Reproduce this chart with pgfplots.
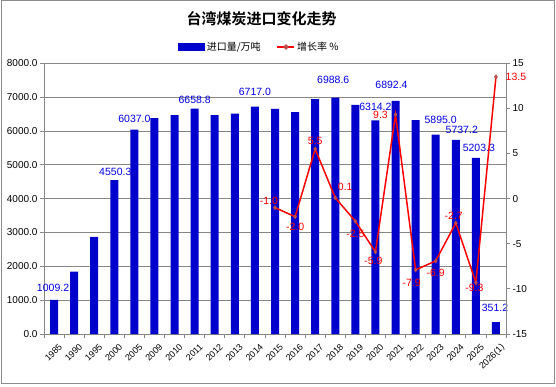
\documentclass[border=0pt]{standalone}
\usepackage{fontspec}
\setmainfont{Liberation Sans}
\newfontfamily\cjk{Noto Sans CJK SC}
\newfontfamily\cjkb{Noto Sans CJK SC Bold}
\usepackage{pgfplots}
\pgfplotsset{compat=1.18}
\usepackage{pgfplotstable}
\definecolor{barblue}{RGB}{0,0,204}
\definecolor{lblblue}{RGB}{0,0,230}
\definecolor{gridgray}{RGB}{134,134,134}
\definecolor{mkred}{RGB}{190,75,72}
\definecolor{framegray}{RGB}{140,140,140}

\pgfplotstableread{
x y
0 1009.2
1 1840
2 2870
3 4550.3
4 6037.0
5 6380
6 6470
7 6658.8
8 6470
9 6510
10 6717.0
11 6650
12 6560
13 6940
14 6988.6
15 6770
16 6314.2
17 6892.4
18 6320
19 5895.0
20 5737.2
21 5203.3
22 351.2
}\bars

\pgfplotstableread{
x y lbl dx dy
0 1009.2 1009.2 -1 12
3 4550.3 4550.3 1 8
4 6037.0 6037.0 0 11
7 6658.8 6658.8 0 8.7
10 6717.0 6717.0 0 15
14 6988.6 6988.6 -2 17.5
16 6314.2 6314.2 0 13
17 6892.4 6892.4 -4 16
19 5895.0 5895.0 5 14.5
20 5737.2 5737.2 6 10
21 5203.3 5203.3 3 10
22 351.2 351.2 -1 14
}\barlabels

\pgfplotstableread{
x g lbl dx dy
11 -1.0 -1.0 -6 7
12 -2.0 -2.0 0 -10
13 5.5 5.5 0 8
14 0.1 0.1 10 11
15 -2.5 -2.5 0 -13
16 -5.9 -5.9 -2 -9
17 9.3 9.3 -15 0
18 -7.9 -7.9 -4 -13
19 -6.9 -6.9 0 -12
20 -2.7 -2.7 -2 7
21 -9.3 -9.3 -1.5 -5
22 13.5 13.5 20 0
}\growth

\begin{document}
\begin{tikzpicture}
\useasboundingbox (0,0) rectangle (556pt,386pt);
\draw[framegray, line width=1pt] (1pt,3pt) rectangle (554pt,385.5pt);
\node[font=\cjkb\fontsize{15}{18}\selectfont] at (261.5pt,367.2pt) {台湾煤炭进口变化走势};

\begin{axis}[
  at={(44pt,52pt)}, anchor=south west,
  scale only axis, width=462pt, height=270.7pt,
  xmin=-0.5, xmax=22.5, ymin=0, ymax=8000,
  axis line style={gridgray, line width=0.8pt},
  tick align=outside,
  major tick length=0pt,
  minor tick length=4pt,
  tick pos=left,
  every tick/.style={gridgray, line width=0.8pt},
  xtick={0,...,22},
  minor xtick={-0.5,0.5,...,22.5},
  xticklabels={1985,1990,1995,2000,2005,2009,2010,2011,2012,2013,2014,2015,2016,2017,2018,2019,2020,2021,2022,2023,2024,2025,2026(1)},
  xticklabel style={rotate=45, anchor=north east, font=\fontsize{9}{10}\selectfont, yshift=-6pt, xshift=0pt},
  ytick={0,1000,...,8000},
  minor ytick={0,1000,...,8000},
  yticklabels={0.0,1000.0,2000.0,3000.0,4000.0,5000.0,6000.0,7000.0,8000.0},
  yticklabel style={font=\fontsize{10}{12}\selectfont, xshift=-3pt},
  ymajorgrids,
  grid style={gridgray, line width=0.8pt},
]
\addplot[ybar, bar width=8pt, bar shift=0pt, fill=barblue, draw=none] table[x=x,y=y] \bars;
\addplot[draw=none, forget plot, nodes near coords, point meta=explicit symbolic,
  visualization depends on={\thisrow{dx}\as\ldx},
  visualization depends on={\thisrow{dy}\as\ldy},
  every node near coord/.append style={anchor=center, text=lblblue, font=\fontsize{10.5}{12}\selectfont, inner sep=0pt, xshift=\ldx pt, yshift=\ldy pt}]
  table[x=x,y=y,meta=lbl] \barlabels;
\end{axis}

\begin{axis}[
  at={(44pt,52pt)}, anchor=south west,
  scale only axis, width=462pt, height=270.7pt,
  xmin=-0.5, xmax=22.5, ymin=-15, ymax=15,
  axis x line=none,
  axis y line*=right,
  axis line style={-, gridgray, line width=0.8pt},
  tick align=outside,
  major tick length=4pt,
  every tick/.style={gridgray, line width=0.8pt},
  ytick={-15,-10,...,15},
  yticklabels={-15,-10,-5,0,5,10,15},
  yticklabel style={font=\fontsize{10}{12}\selectfont, xshift=-1pt},
  legend columns=2,
  legend style={draw=none, fill=none, at={(0.4665,1.0602)}, anchor=center,
    font=\cjk\fontsize{10}{12}\selectfont,
    /tikz/every even column/.append style={column sep=14pt}},
]
\addlegendimage{legend image code/.code={\fill[barblue] (0pt,-3.5pt) rectangle (26pt,3.5pt);}}
\addlegendentry{进口量/万吨}
\addplot[red, line width=1.5pt, mark=diamond*, mark size=2.2pt,
  mark options={fill=mkred, draw=mkred, line width=0.3pt},
  legend image code/.code={\draw[red, line width=1.5pt] (0pt,0pt) -- (17pt,0pt); \fill[mkred] (8.5pt,0pt) circle (1.8pt);},
  nodes near coords, point meta=explicit symbolic,
  visualization depends on={\thisrow{dx}\as\gdx},
  visualization depends on={\thisrow{dy}\as\gdy},
  every node near coord/.append style={anchor=center, text=red, font=\fontsize{10.5}{12}\selectfont, inner sep=0pt, xshift=\gdx pt, yshift=\gdy pt}]
  table[x=x,y=g,meta=lbl] \growth;
\addlegendentry{增长率 \%}
\end{axis}
\end{tikzpicture}
\end{document}
